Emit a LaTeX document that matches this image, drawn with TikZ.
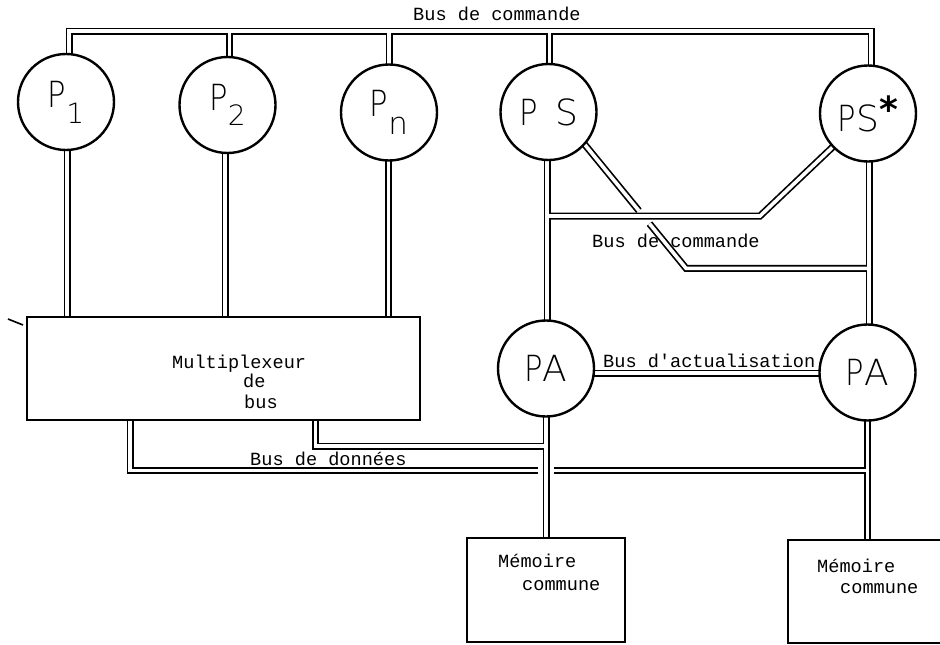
\documentclass[tikz,border=0pt]{standalone}
\usepackage{fontspec}
\usetikzlibrary{calc}
\newfontfamily\typefont{Liberation Mono}[Ligatures=TeXOff]
\newfontfamily\plotfont{DejaVu Sans ExtraLight}
\newfontfamily\plainsans{DejaVu Sans}

\pgfdeclarelayer{wires}
\pgfsetlayers{wires,main}

% narrow plotter-style lettering
\newcommand\narrowP{\scalebox{0.85}[1]{P}}
\newcommand\lowidx[3]{\raisebox{#1}{\fontsize{#2}{#2}\selectfont #3}}

\tikzset{
  unit/.style={circle, draw, line width=2.4pt, fill=white, minimum size=96pt,
    inner sep=0pt, font=\plotfont\fontsize{36}{36}\selectfont},
  blockbox/.style={rectangle, draw, line width=2.8pt, fill=white, inner sep=0pt},
  busouter/.style={line width=7pt, draw=black, line join=miter},
  businner/.style={line width=3.6pt, draw=white, line join=miter},
  bus pass/.code={\ifnum#1=1 \tikzset{busouter}\else\tikzset{businner}\fi},
  tw/.style={font=\typefont\fontsize{18.6}{22}\selectfont, inner sep=0pt, anchor=base west},
}

\begin{document}
\begin{tikzpicture}[x=1pt,y=-1pt]
\useasboundingbox (0,0) rectangle (940,645);
\clip (0,0) rectangle (940,645);

% processors
\node[unit] (P1)  at (66,102)    {\narrowP\lowidx{-16pt}{28}{1}};
\node[unit] (P2)  at (227.5,105) {\narrowP\lowidx{-15pt}{28}{2}};
\node[unit] (Pn)  at (389,112.5) {\narrowP\lowidx{-18pt}{31}{n}};
\node[unit] (PS)  at (548.5,112) {\narrowP\ \,S};
\node[unit] (PSs) at (868,113.5) {\narrowP S\raisebox{9pt}{\plainsans\bfseries *}};
\node[unit] (PA1) at (546,368.5) {\narrowP A};
\node[unit] (PA2) at (867.5,372.5) {\narrowP A};

% blocks
\node[blockbox, minimum width=393pt, minimum height=103pt] (mux) at (223.5,368.5) {};
\node[blockbox, minimum width=158pt, minimum height=104pt] (mem1) at (546,590) {};
\node[blockbox, minimum width=162pt, minimum height=103pt] (mem2) at (869,591.5) {};

% block texts
\node[tw] (muxa) at (172,368) {Multiplexeur};
\node[tw] (muxb) at (243,387) {de};
\node[tw] (muxc) at (244,408) {bus};
\node[tw] (mem1a) at (498,567) {Mémoire};
\node[tw] (mem1b) at (522,590) {commune};
\node[tw] (mem2a) at (817,572) {Mémoire};
\node[tw] (mem2b) at (840,593) {commune};

% bus labels
\node[tw] (lcmdtop) at (413,20)  {Bus de commande};
\node[tw] (lcmdmid) at (592,247) {Bus de commande};
\node[tw] (lact)    at (603,367) {Bus d'actualisation};
\node[tw] (ldata)   at (250,465) {Bus de données};

% small stroke at the corner of the multiplexer
\draw[line width=1.6pt] (8,319) -- (23,325);

% bus routing points
\coordinate (cL) at (69,31);
\coordinate (cR) at (871,31);
\coordinate (c2) at (229.5,31);
\coordinate (c3) at (389,31);
\coordinate (c4) at (549.5,31);
\coordinate (l1) at (67,0);
\coordinate (l2) at (225,0);
\coordinate (l3) at (388.5,0);
\coordinate (sL) at (547,216);
\coordinate (kink) at (760,216);
\coordinate (sR) at (869,0);
\coordinate (d0) at (PS.-42);
\coordinate (B1) at (686,268.3);
\coordinate (act) at (0,373);
\coordinate (m1) at (546,0);
\coordinate (m2) at (867.5,0);
\coordinate (dA) at (130,470.5);
\coordinate (gapL) at (538,470.5);
\coordinate (gapR) at (554,470.5);
\coordinate (dB) at (315.5,446);

\begin{pgfonlayer}{wires}
\foreach \pass in {1,2} {
  % control bus along the top
  \draw[bus pass=\pass] (cL |- P1.center) -- (cL) -- (cR) -- (cR |- PSs.center);
  \draw[bus pass=\pass] (c2 |- P2.center) -- (c2);
  \draw[bus pass=\pass] (c3 |- Pn.center) -- (c3);
  \draw[bus pass=\pass] (c4 |- PS.center) -- (c4);
  % processors to multiplexer
  \draw[bus pass=\pass] (l1 |- P1.center) -- (l1 |- mux.center);
  \draw[bus pass=\pass] (l2 |- P2.center) -- (l2 |- mux.center);
  \draw[bus pass=\pass] (l3 |- Pn.center) -- (l3 |- mux.center);
  % supervisors to update processors
  \draw[bus pass=\pass] (sL |- PS.center) -- (sL |- PA1.center);
  \draw[bus pass=\pass] (sR |- PSs.center) -- (sR |- PA2.center);
  % inner control bus
  \draw[bus pass=\pass] (sL) -- (kink) -- (PSs.center);
  \draw[bus pass=\pass] ($(d0)!-8pt!(B1)$) -- ($(d0)!0.533!(B1)$);
  \draw[bus pass=\pass] ($(d0)!0.638!(B1)$) -- (B1) -- (B1 -| sR);
  % update bus
  \draw[bus pass=\pass] (PA1 |- act) -- (PA2 |- act);
  % update processors to shared memories
  \draw[bus pass=\pass] (m1 |- PA1.center) -- (m1 |- mem1.center);
  \draw[bus pass=\pass] (m2 |- PA2.center) -- (m2 |- mem2.center);
  % data bus
  \draw[bus pass=\pass] (dA |- mux.center) -- (dA) -- (gapL);
  \draw[bus pass=\pass] (gapR) -- (m2 |- dA);
  \draw[bus pass=\pass] (dB |- mux.center) -- (dB) -- (m1 |- dB);
}
\end{pgfonlayer}
\end{tikzpicture}
\end{document}
